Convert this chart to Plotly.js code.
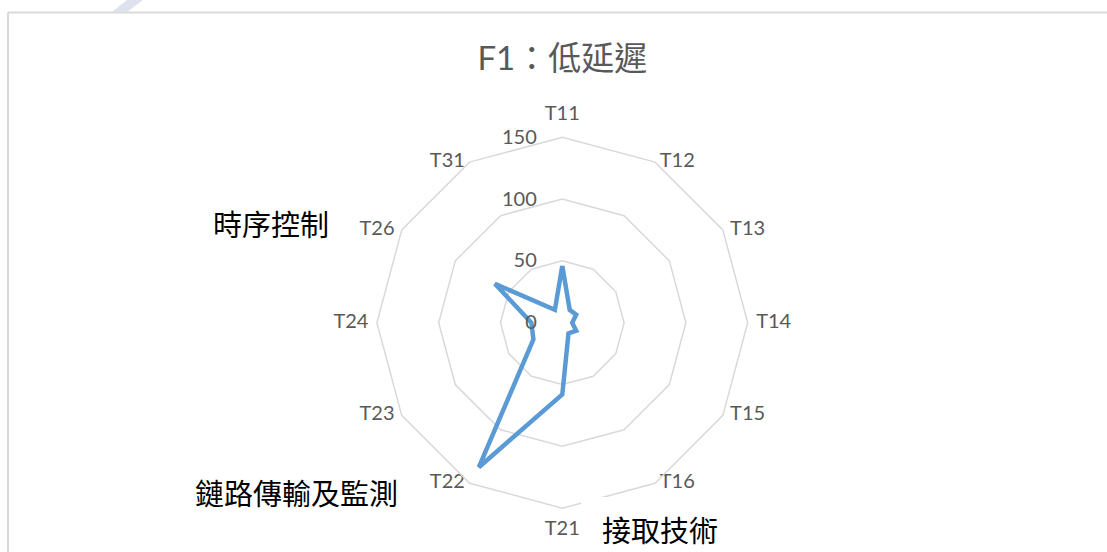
<!DOCTYPE html>
<html>
<head>
<meta charset="utf-8">
<script src="https://cdn.plot.ly/plotly-3.0.1.min.js"></script>
<style>
  html, body { margin: 0; padding: 0; background: #ffffff; }
  #chart { width: 1107px; height: 552px; }
</style>
</head>
<body>
<div id="chart"></div>
<script>
// Requirement items around the radar, clockwise from the top
const categories = ['T11', 'T12', 'T13', 'T14', 'T15', 'T16', 'T21', 'T22', 'T23', 'T24', 'T26', 'T31'];
// Score of each item for F1 (low latency)
const scores = [46, 12, 13, 8, 13, 10, 58, 135, 27, 25, 63, 12];
// Radial scale ticks
const radialTicks = [0, 50, 100, 150];
// Group captions placed beside the radar
const groupNames = ['時序控制', '鏈路傳輸及監測', '接取技術'];
const chartTitle = 'F1：低延遲';

const W = 1107, H = 552;
const px = x => x / W;          // pixel column -> paper x
const py = y => 1 - y / H;      // pixel row -> paper y

const rMax = radialTicks[radialTicks.length - 1];

// Close the polygon by repeating the first item
const theta = categories.concat([categories[0]]);
const r = scores.concat([scores[0]]);

const grey = '#595959';
const gridGrey = '#d9d9d9';
const tickFont = { family: 'Lato, "Noto Sans", sans-serif', size: 20, color: grey };
const cjkFont = { family: '"Noto Sans CJK TC", sans-serif', size: 29, color: '#000000' };

const n = categories.length;
// Category labels sit outside each outer vertex: above/below at the poles, beside elsewhere
const labelPos = categories.map((c, i) =>
  i === 0 ? 'top center' : i === n / 2 ? 'bottom center' : i < n / 2 ? 'middle right' : 'middle left');
// Gap between vertex and label (invisible marker size), by position around the ring
const labelGap = categories.map((c, i) => {
  const k = i % (n / 2);
  if (k === 0) return 18;          // top / bottom
  if (k === 3) return 12;          // left / right
  if (k === 2 || k === 4) return 10;
  return 6;                        // near the poles
});

const series = {
  type: 'scatterpolar',
  mode: 'lines',
  theta: theta,
  r: r,
  line: { color: '#5b9bd5', width: 4.5 },
  hoverinfo: 'skip',
  showlegend: false
};

const categoryLabels = {
  type: 'scatterpolar',
  mode: 'markers+text',
  theta: categories,
  r: categories.map(() => rMax),
  text: categories,
  textposition: labelPos,
  textfont: tickFont,
  marker: { size: labelGap, color: 'rgba(0,0,0,0)' },
  cliponaxis: false,
  hoverinfo: 'skip',
  showlegend: false
};

const cx = 562.3, cy = 322.7, rad = 185.4;

const layout = {
  width: W,
  height: H,
  margin: { l: 0, r: 0, t: 0, b: 0 },
  paper_bgcolor: '#ffffff',
  showlegend: false,
  title: {
    text: chartTitle,
    font: { family: 'Lato, "Noto Sans CJK TC", sans-serif', size: 33, color: grey },
    x: px(cx), xanchor: 'center', xref: 'paper',
    y: py(58), yanchor: 'middle', yref: 'paper'
  },
  polar: {
    domain: { x: [px(cx - rad), px(cx + rad)], y: [py(cy + rad), py(cy - rad)] },
    bgcolor: '#ffffff',
    gridshape: 'linear',
    radialaxis: {
      range: [0, rMax],
      tickvals: radialTicks,
      ticktext: radialTicks.map(String),
      angle: 90,
      tickangle: 90,
      side: 'counterclockwise',
      showline: false,
      ticks: 'outside',
      ticklen: 18,
      tickcolor: 'rgba(0,0,0,0)',
      tickfont: tickFont,
      showgrid: true,
      gridcolor: gridGrey,
      gridwidth: 1.5
    },
    angularaxis: {
      type: 'category',
      categoryorder: 'array',
      categoryarray: categories,
      direction: 'clockwise',
      rotation: 90,
      showgrid: false,
      showline: true,
      linecolor: gridGrey,
      linewidth: 1.5,
      ticks: '',
      showticklabels: false
    }
  },
  shapes: [
    // chart frame (left and top edges)
    { type: 'line', xref: 'paper', yref: 'paper', x0: px(8), x1: px(8), y0: py(12.5), y1: py(552),
      line: { color: gridGrey, width: 2 }, layer: 'below' },
    { type: 'line', xref: 'paper', yref: 'paper', x0: px(8), x1: px(1107), y0: py(12.5), y1: py(12.5),
      line: { color: gridGrey, width: 2 }, layer: 'below' },
    // faint mark above the frame
    { type: 'path', xref: 'paper', yref: 'paper',
      path: `M ${px(112)} ${py(12)} L ${px(127)} ${py(12)} L ${px(143)} ${py(0)} L ${px(127)} ${py(0)} Z`,
      fillcolor: '#dde2ee', line: { width: 0 }, layer: 'below' },
    // white text box behind the access-technology caption
    { type: 'rect', xref: 'paper', yref: 'paper', x0: px(581), x1: px(645), y0: py(552), y1: py(497),
      fillcolor: '#ffffff', line: { width: 0 }, layer: 'above' }
  ],
  annotations: [
    { text: groupNames[0], xref: 'paper', yref: 'paper', x: px(271), y: py(223),
      xanchor: 'center', yanchor: 'middle', showarrow: false, font: cjkFont },
    { text: groupNames[1], xref: 'paper', yref: 'paper', x: px(296), y: py(492),
      xanchor: 'center', yanchor: 'middle', showarrow: false, font: cjkFont },
    { text: groupNames[2], xref: 'paper', yref: 'paper', x: px(660), y: py(529),
      xanchor: 'center', yanchor: 'middle', showarrow: false, font: cjkFont }
  ]
};

Plotly.newPlot('chart', [series, categoryLabels], layout, { displayModeBar: false, staticPlot: true });
</script>
</body>
</html>
